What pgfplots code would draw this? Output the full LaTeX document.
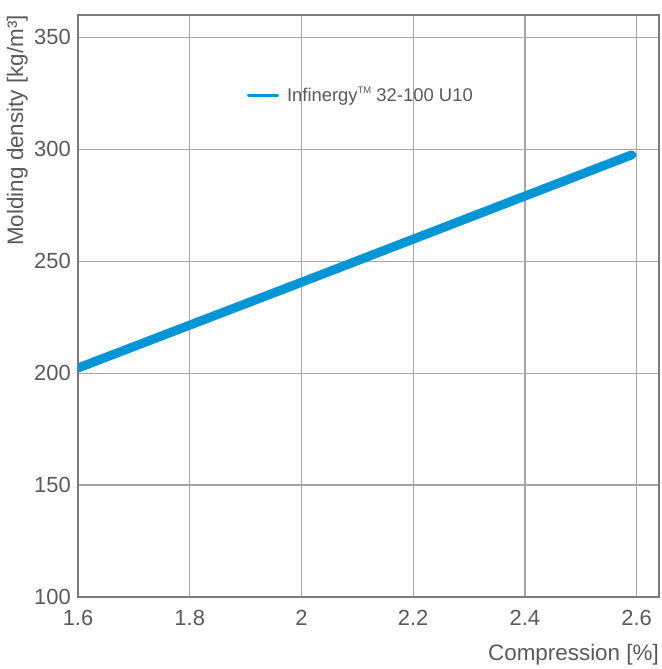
\documentclass[border=0pt]{standalone}
\usepackage{pgfplots}
\pgfplotsset{compat=1.18}
\usepackage{fontspec}
\setmainfont{Liberation Sans}

\definecolor{lineblue}{HTML}{0096D6}
\definecolor{txtgray}{HTML}{5A5A5A}
\definecolor{gridgray}{HTML}{A6A6A6}
\definecolor{boxgray}{HTML}{7A7A7A}

\newcommand{\tm}{\raisebox{0.42em}{\fontsize{9.5}{10}\selectfont TM}}

\begin{document}
\begin{tikzpicture}
\useasboundingbox (0,0) rectangle (662bp,669bp);
\begin{axis}[
	at={(78bp,72bp)}, anchor=south west,
	scale only axis,
	width=581bp, height=582bp,
	xmin=1.6, xmax=2.64,
	ymin=100, ymax=360,
	xtick={1.6,1.8,2,2.2,2.4,2.6},
	ytick={100,150,200,250,300,350},
	xticklabels={1.6,1.8,2,2.2,2.4,2.6},
	major tick length=0pt,
	grid=major,
	grid style={gridgray, line width=1.2bp},
	axis line style={boxgray, line width=1.2bp},
	tick label style={font=\fontsize{22}{25}\selectfont, txtgray},
	/pgf/number format/assume math mode=true,
	yticklabel style={inner sep=0pt, xshift=-7bp},
	xticklabel style={inner sep=0pt, yshift=-13bp},
	xlabel={Compression [\%]},
	ylabel={Molding density [kg/m³]},
	label style={font=\fontsize{22.5}{25}\selectfont, txtgray, inner sep=0pt},
	xlabel style={at={(axis description cs:1,-0.080)}, anchor=north east},
	ylabel style={at={(axis description cs:-0.086,1)}, anchor=south east},
	legend style={draw=none, fill=none, at={(axis description cs:0.285,0.862)},
		anchor=west, font=\fontsize{18.5}{22}\selectfont, text=txtgray,
		legend cell align=left},
	legend image code/.code={\draw[#1, line width=3.5bp] (0bp,0bp) -- (29bp,0bp);
		\path (32bp,0bp);},
]
\addplot[lineblue, line width=9bp, line cap=round] coordinates {
	(1.6, 202.3)
	(2.0, 240.6)
	(2.591, 297.5)
};
\legend{Infinergy\tm\ 32-100 U10}
\end{axis}
\end{tikzpicture}
\end{document}
